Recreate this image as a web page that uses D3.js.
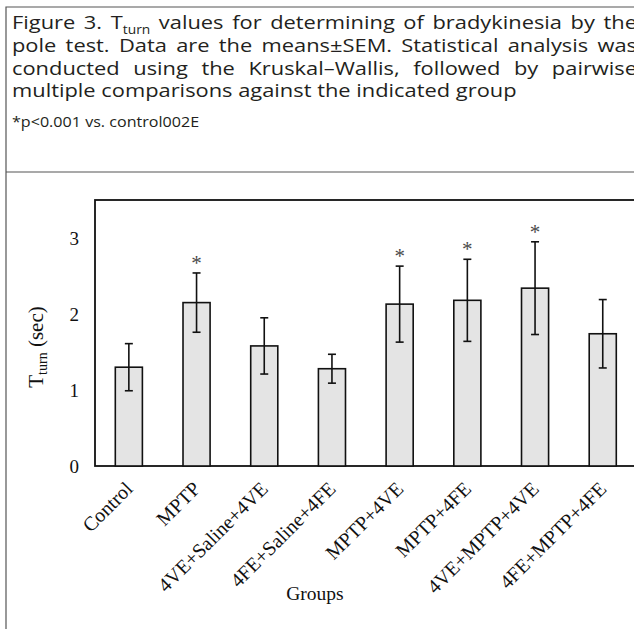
<!DOCTYPE html>
<html>
<head>
<meta charset="utf-8">
<script src="https://cdn.jsdelivr.net/npm/d3@7"></script>
<style>
  html, body { margin: 0; padding: 0; background: #fff; }
  svg { display: block; }
</style>
</head>
<body>
<svg id="fig" width="634" height="629"></svg>
<script>
// Pole-test turn times per treatment group (mean ± SEM, seconds)
const groups = ["Control", "MPTP", "4VE+Saline+4VE", "4FE+Saline+4FE",
                "MPTP+4VE", "MPTP+4FE", "4VE+MPTP+4VE", "4FE+MPTP+4FE"];
const means = [1.30, 2.15, 1.58, 1.28, 2.13, 2.18, 2.34, 1.74];
const sems = [0.31, 0.39, 0.37, 0.19, 0.50, 0.54, 0.61, 0.45];
const significant = [false, true, false, false, true, true, true, false];
const yTicks = [0, 1, 2, 3];

const captionLines = [
  ["Figure", "3.", "T_turn", "values", "for", "determining", "of", "bradykinesia", "by", "the"],
  ["pole", "test.", "Data", "are", "the", "means±SEM.", "Statistical", "analysis", "was"],
  ["conducted", "using", "the", "Kruskal–Wallis,", "followed", "by", "pairwise"],
  ["multiple", "comparisons", "against", "the", "indicated", "group"]
];
const footnote = "*p<0.001 vs. control002E";

const svg = d3.select("#fig");
const capFont = "'Open Sans', 'Noto Sans', sans-serif";
const serif = "'Liberation Serif', 'Times New Roman', serif";

// ---- outer frame and divider ----
svg.append("path")
  .attr("d", "M6,640 V7 H640")
  .attr("fill", "none").attr("stroke", "#555").attr("stroke-width", 1.2);
svg.append("line")
  .attr("x1", 6).attr("x2", 640).attr("y1", 172).attr("y2", 172)
  .attr("stroke", "#555").attr("stroke-width", 1.2);

// ---- caption: slightly widened type, justified word by word ----
const capSize = 19, subSize = 12;
const lastLineWidth = 505;          // width of the final (ragged) line
const capLeft = 12, capRight = 637;
const baselines = [29, 51.8, 74.6, 97.4];

// measure the last line to get the horizontal stretch of the caption face
const probe = svg.append("text").attr("font-family", capFont).attr("font-size", capSize)
  .text(captionLines[3].join(" "));
const sx = lastLineWidth / probe.node().getComputedTextLength();
probe.remove();

const cap = svg.append("g")
  .attr("transform", `scale(${sx},1)`)
  .attr("font-family", capFont).attr("fill", "#231f20");
const x0 = capLeft / sx, x1 = capRight / sx;

captionLines.forEach((words, li) => {
  const nodes = words.map(w => {
    const t = cap.append("text").attr("y", baselines[li]).attr("font-size", capSize);
    if (w === "T_turn") {
      t.append("tspan").text("T");
      t.append("tspan").attr("font-size", subSize).attr("dy", 5).text("turn");
    } else {
      t.text(w);
    }
    return t;
  });
  const widths = nodes.map(n => n.node().getComputedTextLength());
  const total = d3.sum(widths);
  const last = li === captionLines.length - 1;
  const gap = last ? capSize * 0.26 : (x1 - x0 - total) / (nodes.length - 1);
  let x = x0;
  nodes.forEach((n, i) => { n.attr("x", x); x += widths[i] + gap; });
});

cap.append("text")
  .attr("x", x0).attr("y", 127)
  .attr("font-size", 14)
  .text(footnote);

// ---- bar chart ----
const left = 95, base = 466, unit = 76;
const step = 67.7;
const x = d3.scaleBand()
  .domain(groups)
  .range([left, left + step * groups.length])
  .paddingInner(0.6)
  .paddingOuter(0.3);
const y = d3.scaleLinear().domain([0, 3.5]).range([base, base - 3.5 * unit]);

const plot = svg.append("g");

// frame of the plotting area
plot.append("rect")
  .attr("x", left).attr("y", y(3.5))
  .attr("width", x.range()[1] - left)
  .attr("height", base - y(3.5))
  .attr("fill", "none").attr("stroke", "#111").attr("stroke-width", 1.8);

// y tick labels
const yAxis = d3.axisLeft(y).tickValues(yTicks).tickSize(0).tickPadding(16).tickFormat(d3.format("d"));
const yg = plot.append("g").attr("transform", `translate(${left},0)`).call(yAxis);
yg.select(".domain").remove();
yg.selectAll("text").attr("font-family", serif).attr("font-size", 19).attr("fill", "#111");

// bars
const idx = d3.range(groups.length);
plot.selectAll("rect.bar").data(idx).join("rect")
  .attr("class", "bar")
  .attr("x", i => x(groups[i]))
  .attr("y", i => y(means[i]))
  .attr("width", x.bandwidth())
  .attr("height", i => base - y(means[i]))
  .attr("fill", "#e4e4e4").attr("stroke", "#111").attr("stroke-width", 1.6);

// error bars
const cx = i => x(groups[i]) + x.bandwidth() / 2;
const err = plot.append("g").attr("stroke", "#111").attr("stroke-width", 1.6);
err.selectAll("line.stem").data(idx).join("line")
  .attr("x1", cx).attr("x2", cx)
  .attr("y1", i => y(means[i] + sems[i])).attr("y2", i => y(means[i] - sems[i]));
err.selectAll("line.capTop").data(idx).join("line")
  .attr("x1", i => cx(i) - 4).attr("x2", i => cx(i) + 4)
  .attr("y1", i => y(means[i] + sems[i])).attr("y2", i => y(means[i] + sems[i]));
err.selectAll("line.capBot").data(idx).join("line")
  .attr("x1", i => cx(i) - 4).attr("x2", i => cx(i) + 4)
  .attr("y1", i => y(means[i] - sems[i])).attr("y2", i => y(means[i] - sems[i]));

// significance marks
plot.selectAll("text.sig").data(idx.filter(i => significant[i])).join("text")
  .attr("class", "sig")
  .attr("x", cx)
  .attr("y", i => y(means[i] + sems[i]) - 3)
  .attr("text-anchor", "middle")
  .attr("font-family", serif).attr("font-size", 21).attr("fill", "#4a4a4a")
  .text("*");

// x tick labels, rotated
const xAxis = d3.axisBottom(x).tickSize(0).tickPadding(0);
const xg = plot.append("g").attr("transform", `translate(0,${base})`).call(xAxis);
xg.select(".domain").remove();
xg.selectAll("text")
  .attr("font-family", serif).attr("font-size", 20).attr("fill", "#111")
  .attr("text-anchor", "end")
  .attr("dy", null).attr("y", 0)
  .attr("transform", "translate(5,24) rotate(-45)");

// axis titles
plot.append("text")
  .attr("x", 315).attr("y", 600)
  .attr("text-anchor", "middle")
  .attr("font-family", serif).attr("font-size", 19.5).attr("fill", "#111")
  .text("Groups");

const yt = plot.append("text")
  .attr("transform", "translate(43,347) rotate(-90)")
  .attr("text-anchor", "middle")
  .attr("font-family", serif).attr("font-size", 21).attr("fill", "#111");
yt.append("tspan").text("T");
yt.append("tspan").attr("font-size", 14).attr("dy", 4).text("turn");
yt.append("tspan").attr("dy", -4).text(" (sec)");
</script>
</body>
</html>
